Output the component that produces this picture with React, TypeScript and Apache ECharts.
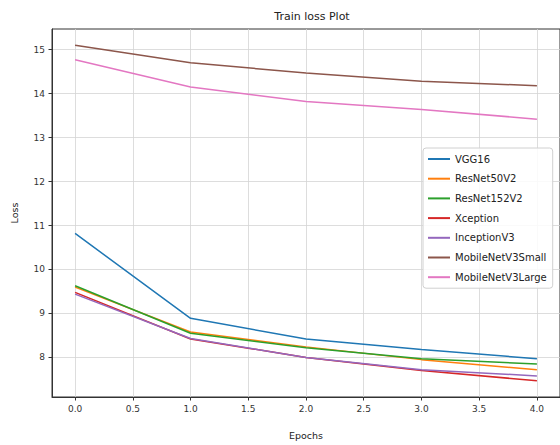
import React, { useEffect, useRef } from "react";
import * as echarts from "echarts";

const epochs = [0, 1, 2, 3, 4];
const seriesNames = [
  "VGG16",
  "ResNet50V2",
  "ResNet152V2",
  "Xception",
  "InceptionV3",
  "MobileNetV3Small",
  "MobileNetV3Large",
];
const vgg16 = [10.82, 8.89, 8.42, 8.18, 7.97];
const resnet50v2 = [9.6, 8.58, 8.24, 7.95, 7.72];
const resnet152v2 = [9.63, 8.55, 8.22, 7.97, 7.85];
const xception = [9.48, 8.42, 8.0, 7.7, 7.47];
const inceptionv3 = [9.44, 8.43, 8.0, 7.72, 7.58];
const mobileSmall = [15.1, 14.7, 14.47, 14.28, 14.18];
const mobileLarge = [14.77, 14.15, 13.82, 13.64, 13.42];
const xTicks = [0, 0.5, 1, 1.5, 2, 2.5, 3, 3.5, 4];
const yTicks = [8, 9, 10, 11, 12, 13, 14, 15];
const colors = ["#1f77b4", "#ff7f0e", "#2ca02c", "#d62728", "#9467bd", "#8c564b", "#e377c2"];

const allValues = [vgg16, resnet50v2, resnet152v2, xception, inceptionv3, mobileSmall, mobileLarge];

export default function App() {
  const ref = useRef<HTMLDivElement>(null);
  useEffect(() => {
    if (!ref.current) return;
    const chart = echarts.init(ref.current, null, { renderer: "svg" });
    const font = "DejaVu Sans";
    chart.setOption({
      animation: false,
      backgroundColor: "#ffffff",
      title: {
        text: "Train loss Plot",
        left: 307,
        top: 6,
        textAlign: "center",
        textStyle: { fontFamily: font, fontSize: 11, fontWeight: "normal", color: "#222" },
      },
      grid: {
        left: 52,
        top: 29,
        width: 511,
        height: 374,
        show: true,
        borderColor: "#333",
        borderWidth: 1,
        backgroundColor: "transparent",
      },
      legend: {
        orient: "vertical",
        left: 423,
        top: 148,
        data: seriesNames,
        icon: "rect",
        itemWidth: 22,
        itemHeight: 2,
        itemGap: 5.7,
        padding: [4, 6, 4, 5],
        backgroundColor: "rgba(255,255,255,0.85)",
        borderColor: "#d0d0d0",
        borderWidth: 1,
        borderRadius: 3,
        textStyle: { fontFamily: font, fontSize: 10, color: "#222", lineHeight: 14 },
      },
      xAxis: {
        type: "value",
        min: -0.2,
        max: 4.2,
        name: "Epochs",
        nameLocation: "middle",
        nameGap: 33,
        nameTextStyle: { fontFamily: font, fontSize: 9.5, color: "#222" },
        axisLine: { show: true, onZero: false, lineStyle: { color: "#333", width: 1 } },
        axisTick: { show: true, length: 3.5, customValues: xTicks, lineStyle: { color: "#333" } },
        axisLabel: {
          customValues: xTicks,
          formatter: (v: number) => v.toFixed(1),
          fontFamily: font,
          fontSize: 9,
          color: "#333",
          margin: 7,
        },
        splitLine: { show: true, lineStyle: { color: "#d4d4d4", width: 0.8 } },
      },
      yAxis: {
        type: "value",
        min: 7.1,
        max: 15.47,
        name: "Loss",
        nameLocation: "middle",
        nameGap: 33,
        nameTextStyle: { fontFamily: font, fontSize: 9.5, color: "#222" },
        axisLine: { show: true, onZero: false, lineStyle: { color: "#333", width: 1 } },
        axisTick: { show: true, length: 3.5, customValues: yTicks, lineStyle: { color: "#333" } },
        axisLabel: {
          customValues: yTicks,
          fontFamily: font,
          fontSize: 9,
          color: "#333",
          margin: 7,
        },
        splitLine: { show: true, lineStyle: { color: "#d4d4d4", width: 0.8 } },
      },
      series: seriesNames.map((name, i) => ({
        name,
        type: "line",
        data: epochs.map((e, j) => [e, allValues[i][j]]),
        showSymbol: false,
        symbol: "none",
        color: colors[i],
        lineStyle: { width: 1.5, color: colors[i] },
        z: 3,
      })),
    });
    return () => chart.dispose();
  }, []);
  return (
    <div
      ref={ref}
      style={{ position: "fixed", left: 0, top: 0, width: 560, height: 445 }}
    />
  );
}
